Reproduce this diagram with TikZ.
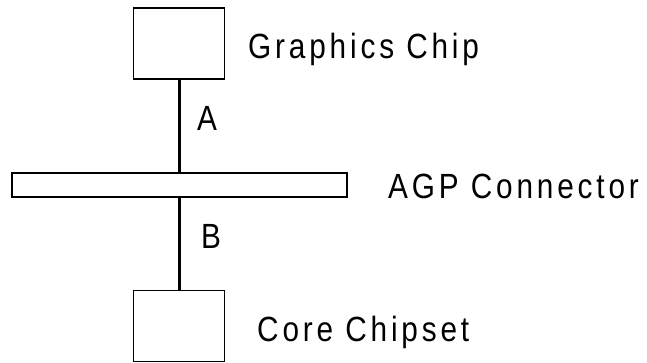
\documentclass[tikz,border=0pt]{standalone}
\usepackage{fontspec}
\setmainfont{Liberation Sans}[FakeStretch=0.85,LetterSpace=11]
\usepackage{tikz}
\usetikzlibrary{positioning}

\tikzset{
  chipbox/.style={draw, line width=1.5pt, minimum width=91pt, minimum height=71pt, inner sep=0pt},
  slotbar/.style={draw, line width=1.5pt, minimum width=335pt, minimum height=24pt, inner sep=0pt},
  buswire/.style={line width=3pt},
  tag/.style={inner sep=0pt, anchor=base west, font=\fontsize{35}{42}\selectfont}
}

\begin{document}
\begin{tikzpicture}[x=1pt, y=-1pt]
    \useasboundingbox (0,0) rectangle (647,362);

    % Bausteine
    \node[chipbox] (gfx) at (179, 43.5) {};
    \node[slotbar] (agp) at (179.5, 185) {};
    \node[chipbox] (core) at (179, 326) {};

    % Verbindungen
    \draw[buswire] (gfx.south) -- (agp.north -| gfx.south);
    \draw[buswire] (agp.south -| core.north) -- (core.north);

    % Beschriftungen
    \node[tag] (lblGfx) at (248, 58) {Graphics Chip};
    \node[tag] (lblAgp) at (388, 198) {AGP Connector};
    \node[tag] (lblCore) at (257, 341) {Core Chipset};
    \node[tag] (lblA) at (197, 130) {A};
    \node[tag] (lblB) at (201, 248) {B};
\end{tikzpicture}
\end{document}
